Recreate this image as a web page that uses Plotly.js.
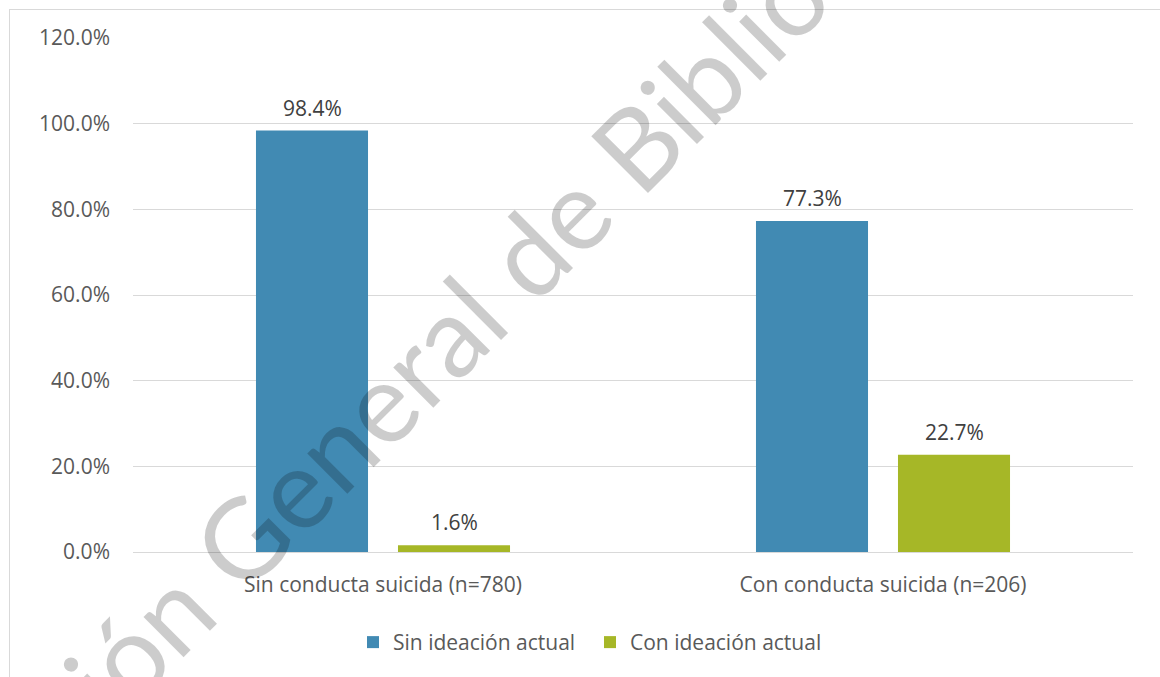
<!DOCTYPE html>
<html>
<head>
<meta charset="utf-8">
<script src="https://cdn.plot.ly/plotly-3.0.1.min.js"></script>
<style>
  html, body { margin: 0; padding: 0; background: #ffffff; overflow: hidden; }
  #frame { position: absolute; left: 9px; top: 9px; width: 1300px; height: 800px; border: 1px solid #d9d9d9; box-sizing: border-box; }
  #chart { position: absolute; left: 0; top: 0; width: 1160px; height: 677px; }
</style>
</head>
<body>
<div id="frame"></div>
<div id="chart"></div>
<script>
const categories = ["Sin conducta suicida (n=780)", "Con conducta suicida (n=206)"];
const seriesNames = ["Sin ideación actual", "Con ideación actual"];
const sinIdeacion = [0.984, 0.773];
const conIdeacion = [0.016, 0.227];
const yTicks = [0, 0.2, 0.4, 0.6, 0.8, 1.0, 1.2];
const watermarkText = "Dirección General de Bibliotecas";

const colors = ["#418AB3", "#A6B727"];
const FONT = "'Open Sans', 'Noto Sans', sans-serif";

const traces = [
  { type: "bar", name: seriesNames[0], x: categories, y: sinIdeacion, marker: { color: colors[0] }, hoverinfo: "none" },
  { type: "bar", name: seriesNames[1], x: categories, y: conIdeacion, marker: { color: colors[1] }, hoverinfo: "none" }
];

// data labels above each bar
const annotations = [];
[sinIdeacion, conIdeacion].forEach((vals, s) => {
  vals.forEach((v, i) => {
    annotations.push({
      x: categories[i], y: v, xref: "x", yref: "y",
      text: (v * 100).toFixed(1) + "%",
      showarrow: false, yanchor: "bottom",
      xshift: s === 0 ? -71 : 71, yshift: 7,
      font: { family: FONT, size: 21, color: "#404040" }
    });
  });
});
// watermark (cut off by the page edges, as in the reference)
annotations.push({
  xref: "paper", yref: "paper", x: 0.291, y: 0.382,
  xanchor: "center", yanchor: "middle",
  text: watermarkText, showarrow: false, textangle: -45,
  font: { family: "Lato, 'Open Sans', sans-serif", size: 112, color: "rgba(0,0,0,0.2)" }
});

const layout = {
  width: 1160, height: 677,
  margin: { l: 133, r: 27, t: 38, b: 125 },
  paper_bgcolor: "rgba(0,0,0,0)",
  plot_bgcolor: "rgba(0,0,0,0)",
  font: { family: FONT, size: 21, color: "#595959" },
  barmode: "group",
  bargap: 0.432,
  bargroupgap: 0.211,
  xaxis: {
    type: "category",
    showline: false, ticks: "", showgrid: false, ticklabelstandoff: 18,
    tickfont: { family: FONT, size: 21, color: "#595959" }
  },
  yaxis: {
    range: [0, 1.2], tickvals: yTicks, tickformat: ".1%",
    showgrid: true, gridcolor: "#d9d9d9", gridwidth: 1,
    zeroline: true, zerolinecolor: "#d9d9d9", zerolinewidth: 1,
    showline: false, ticks: "", ticklabelstandoff: 22,
    tickfont: { family: FONT, size: 21, color: "#595959" }
  },
  showlegend: true,
  legend: {
    orientation: "h", x: 0.22, xanchor: "left", y: -0.176, yanchor: "middle",
    entrywidth: 192,
    font: { family: FONT, size: 21, color: "#595959" },
    bgcolor: "rgba(0,0,0,0)"
  },
  annotations: annotations
};

Plotly.newPlot("chart", traces, layout, { displayModeBar: false, staticPlot: true });
</script>
</body>
</html>
